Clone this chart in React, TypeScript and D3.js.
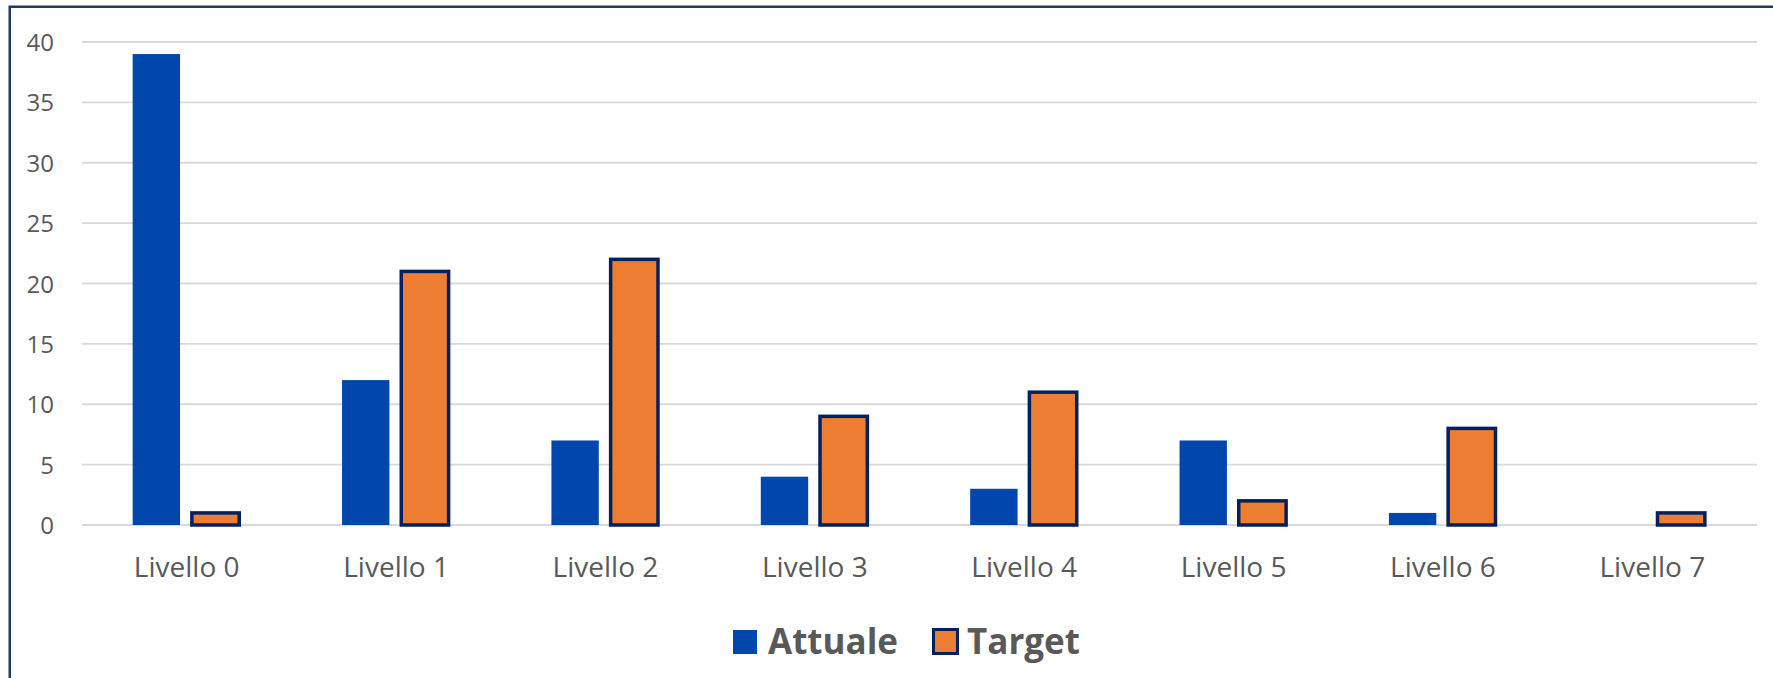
import React from "react";
import * as d3 from "d3";

const categories = ["Livello 0", "Livello 1", "Livello 2", "Livello 3", "Livello 4", "Livello 5", "Livello 6", "Livello 7"];
const seriesNames = ["Attuale", "Target"];
const attuale = [39, 12, 7, 4, 3, 7, 1, 0];
const target = [1, 21, 22, 9, 11, 2, 8, 1];
const yTicks = [0, 5, 10, 15, 20, 25, 30, 35, 40];

const W = 1773;
const H = 678;
const BLUE = "#0046AD";
const ORANGE = "#ED7D31";
const NAVY = "#002060";
const TEXT = "#595959";
const GRID = "#D9D9D9";
const FONT = "'Open Sans', 'Segoe UI', sans-serif";

export default function App() {
  const left = 82;
  const right = 1757;
  const y = d3.scaleLinear().domain([0, 40]).range([525, 42]);
  const x0 = d3.scaleBand<string>().domain(categories).range([left, right]).padding(0);
  const bw0 = x0.bandwidth();
  const x1 = d3
    .scaleBand<string>()
    .domain(seriesNames)
    .range([bw0 * 0.242, bw0 * 0.751])
    .paddingInner(0.2)
    .paddingOuter(0);
  const values: Record<string, number[]> = { Attuale: attuale, Target: target };

  return (
    <svg
      width={W}
      height={H}
      style={{ position: "absolute", left: 0, top: 0, background: "#fff" }}
      fontFamily={FONT}
    >
      <rect x={0} y={0} width={W} height={H} fill="#fff" />
      <rect x={9.75} y={6.75} width={W + 20} height={H + 20} fill="none" stroke="#1F3864" strokeWidth={2.5} />
      {yTicks.map((t) => (
        <g key={t}>
          <line x1={left} x2={right} y1={y(t)} y2={y(t)} stroke={GRID} strokeWidth={1.8} />
          <text x={54} y={y(t) + 9} textAnchor="end" fontSize={24} fill={TEXT}>
            {t}
          </text>
        </g>
      ))}
      {categories.map((c, i) => (
        <g key={c} transform={`translate(${x0(c)},0)`}>
          {seriesNames.map((s) => {
            const v = values[s][i];
            if (v <= 0) return null;
            const bx = x1(s)!;
            const w = x1.bandwidth();
            return s === "Attuale" ? (
              <rect key={s} x={bx} y={y(v)} width={w} height={y(0) - y(v)} fill={BLUE} />
            ) : (
              <rect
                key={s}
                x={bx}
                y={y(v)}
                width={w}
                height={y(0) - y(v)}
                fill={ORANGE}
                stroke={NAVY}
                strokeWidth={3.5}
              />
            );
          })}
          <text x={bw0 / 2} y={577} textAnchor="middle" fontSize={28} fill={TEXT}>
            {c}
          </text>
        </g>
      ))}
      <g>
        <rect x={733} y={630} width={24} height={24} fill={BLUE} />
        <text x={768} y={654} fontSize={35} fontWeight="bold" fill={TEXT}>
          Attuale
        </text>
        <rect x={933.5} y={629.5} width={24} height={24} fill={ORANGE} stroke={NAVY} strokeWidth={3} />
        <text x={967} y={654} fontSize={35} fontWeight="bold" fill={TEXT}>
          Target
        </text>
      </g>
    </svg>
  );
}
